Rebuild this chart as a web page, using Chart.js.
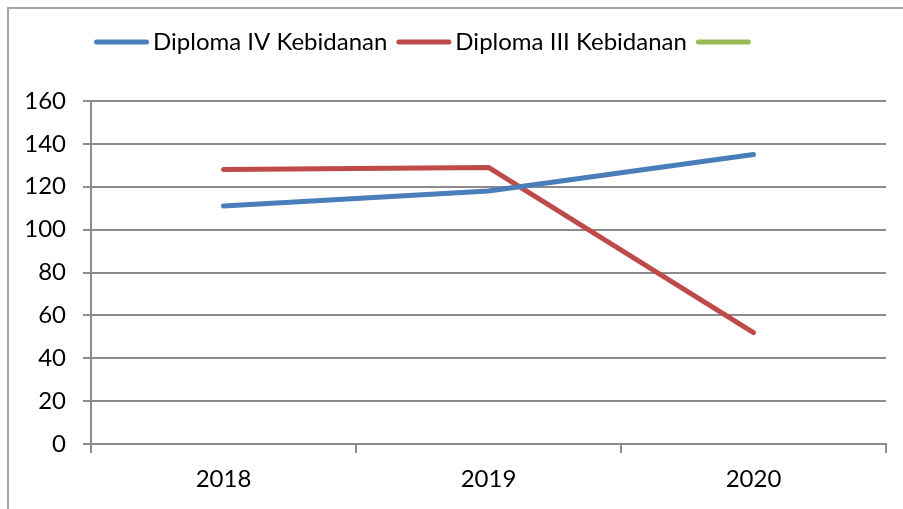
<!DOCTYPE html>
<html>
<head>
<meta charset="utf-8">
<script src="https://cdn.jsdelivr.net/npm/chart.js@4.4.1/dist/chart.umd.min.js"></script>
<style>
  html, body { margin: 0; padding: 0; background: #fff; overflow: hidden; }
  #frame { position: absolute; left: 7px; top: 7px; width: 1000px; height: 1000px; border: 2px solid #a5a5a5; }
  #chart { position: absolute; left: 0; top: 0; }
</style>
</head>
<body>
<div id="frame"></div>
<canvas id="chart" width="903" height="509"></canvas>
<script>
const years = ['2018', '2019', '2020']
const diplomaIV = [111, 118, 135]
const diplomaIII = [128, 129, 52]
const thirdSeries = []
const seriesLabels = ['Diploma IV Kebidanan', 'Diploma III Kebidanan', '']
const yTicks = { min: 0, max: 160, step: 20 }

const FONT = 'Lato'
const gridColor = '#8c8c8c'

// legend drawn by hand so it can start where the original does
const lineLegend = {
  id: 'lineLegend',
  afterDraw(chart) {
    const ctx = chart.ctx
    let x = 94
    const y = 42
    ctx.save()
    ctx.font = '24px ' + FONT
    ctx.textBaseline = 'middle'
    chart.data.datasets.forEach(ds => {
      ctx.strokeStyle = ds.borderColor
      ctx.lineWidth = 5
      ctx.lineCap = 'round'
      ctx.beginPath()
      ctx.moveTo(x + 2.5, y)
      ctx.lineTo(x + 52.5, y)
      ctx.stroke()
      x += 55 + 4
      if (ds.label) {
        ctx.fillStyle = '#000'
        ctx.fillText(ds.label, x, y)
        x += ctx.measureText(ds.label).width + 9
      }
    })
    ctx.restore()
  }
}

new Chart(document.getElementById('chart'), {
  type: 'line',
  data: {
    labels: years,
    datasets: [
      { label: seriesLabels[0], data: diplomaIV, borderColor: '#4a7ebb', backgroundColor: '#4a7ebb' },
      { label: seriesLabels[1], data: diplomaIII, borderColor: '#be4b48', backgroundColor: '#be4b48' },
      { label: seriesLabels[2], data: thirdSeries, borderColor: '#98b954', backgroundColor: '#98b954' }
    ].map(ds => ({ ...ds, borderWidth: 5, pointRadius: 0, tension: 0, borderCapStyle: 'round', borderJoinStyle: 'round' }))
  },
  options: {
    responsive: false,
    devicePixelRatio: 1,
    animation: false,
    layout: { padding: { top: 101, right: 17, bottom: 0, left: 0 } },
    plugins: {
      legend: { display: false },
      tooltip: { enabled: false }
    },
    scales: {
      x: {
        offset: true,
        grid: { offset: true, drawOnChartArea: false, drawTicks: true, tickLength: 9, color: gridColor, lineWidth: 2 },
        border: { color: gridColor, width: 2 },
        ticks: { padding: 12, color: '#000', font: { family: FONT, size: 24 } },
        afterFit: scale => { scale.height = 65 }
      },
      y: {
        min: yTicks.min,
        max: yTicks.max,
        grid: { color: gridColor, lineWidth: 2, tickLength: 8 },
        border: { color: gridColor, width: 2 },
        ticks: { stepSize: yTicks.step, padding: 17, color: '#000', font: { family: FONT, size: 24 } },
        afterFit: scale => { scale.width = 91 }
      }
    }
  },
  plugins: [lineLegend]
})
</script>
</body>
</html>
